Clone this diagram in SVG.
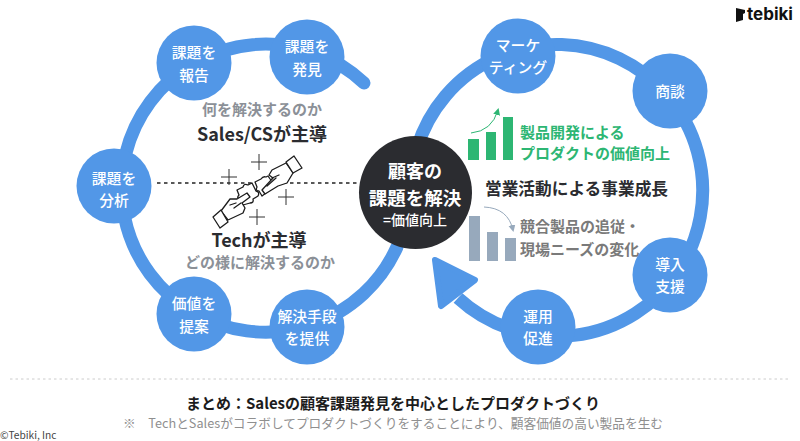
<svg xmlns="http://www.w3.org/2000/svg" width="800" height="441" viewBox="0 0 800 441">
<style>
text{font-family:"Noto Sans CJK JP","Noto Sans",sans-serif;text-anchor:middle}
.n{fill:#5297E7}
.nt{fill:#fff;font-size:14.8px;font-weight:500}
.ring{fill:none;stroke:#5297E7;stroke-width:13;stroke-linecap:round}
.big{fill:#2b2c30;font-size:18px;font-weight:700}
.sub{fill:#8b9097;font-size:15px;font-weight:700}
.l{text-anchor:start}
.icon{fill:#fff;stroke:#1c1c1c;stroke-width:1.3;stroke-linejoin:round;stroke-linecap:round}
.sp{fill:none;stroke:#333;stroke-width:1}
</style>
<defs>
<marker id="ga" markerWidth="8" markerHeight="8" refX="5" refY="3.5" orient="auto" markerUnits="userSpaceOnUse"><path d="M0 0L7 3.5L0 7Z" fill="#2DB673"/></marker>
<marker id="gr" markerWidth="8" markerHeight="8" refX="5" refY="3.5" orient="auto" markerUnits="userSpaceOnUse"><path d="M0 0L7 3.5L0 7Z" fill="#97A9BC"/></marker>
</defs>
<rect width="800" height="441" fill="#fff"/>
<g id="connectors">
<path class="ring" d="M364 83A144 144 0 1 0 397 247"/>
<path class="ring" style="stroke-linecap:butt" d="M417 148A146 146 0 1 1 458 298"/>
<path d="M435 260L475 280L441 306Z" fill="#5297E7" stroke="#5297E7" stroke-width="6" stroke-linejoin="round"/>
<path d="M157 183H360" fill="none" stroke="#222" stroke-width="1.300" stroke-dasharray="3.500 3.500"/>
<path d="M10 379H790" fill="none" stroke="#ccc" stroke-width="1" stroke-dasharray="2.500 3"/>
</g>
<g id="icon-hands">
<path class="sp" d="M259 154V170M251 162H267M229 169V185M221 177H237M286 189V205M278 197H294M257 209V225M249 217H265"/>
<path class="icon" d="M237 190L243 187Q244 183 248 185L252 183L256 191Q260 192 258 196L253 199Q254 203 250 203L243 205L240 199Q236 198 239 195Z"/>
<path class="icon" d="M255 182L261 179Q263 176 266 177L268 176L275 186L262 196L259 191Q255 191 257 187Z"/>
<path class="icon" d="M221 211L230 199L237 199L247 193L250 197L242 203L245 208L243 213L228 220Z"/>
<path class="icon" d="M230 205L236 203M241 203L234 208"/>
<path class="icon" d="M213 217L221 210L228 222L220 228Z"/>
<path class="icon" d="M286 163L272 170L269 175L273 178L262 190L265 194L278 186L287 183L293 173Z"/>
<path class="icon" d="M267 186L276 178M272 178L279 175"/>
<path class="icon" d="M286 162L294 156L302 168L293 173Z"/>
</g>
<g id="node-hakken"><circle class="n" cx="307" cy="57" r="37.500"/><text class="nt" x="307" y="52">課題を</text><text class="nt" x="307" y="75">発見</text></g>
<g id="node-houkoku"><circle class="n" cx="194" cy="63" r="37.500"/><text class="nt" x="194" y="58">課題を</text><text class="nt" x="194" y="81">報告</text></g>
<g id="node-bunseki"><circle class="n" cx="114" cy="186" r="37.500"/><text class="nt" x="114" y="184">課題を</text><text class="nt" x="114" y="206">分析</text></g>
<g id="node-teian"><circle class="n" cx="194" cy="314" r="37.500"/><text class="nt" x="194" y="309">価値を</text><text class="nt" x="194" y="332">提案</text></g>
<g id="node-kaiketsu"><circle class="n" cx="307" cy="327" r="37.500"/><text class="nt" x="307" y="322">解決手段</text><text class="nt" x="307" y="344">を提供</text></g>
<g id="node-marketing"><circle class="n" cx="518" cy="56" r="37.500"/><text class="nt" x="518" y="51">マーケ</text><text class="nt" x="518" y="73">ティング</text></g>
<g id="node-shoudan"><circle class="n" cx="670" cy="91" r="37.500"/><text class="nt" x="670" y="97">商談</text></g>
<g id="node-dounyu"><circle class="n" cx="670" cy="275" r="37.500"/><text class="nt" x="670" y="270">導入</text><text class="nt" x="670" y="292">支援</text></g>
<g id="node-unyou"><circle class="n" cx="538" cy="327" r="37.500"/><text class="nt" x="538" y="322">運用</text><text class="nt" x="538" y="344">促進</text></g>
<g id="node-center"><circle cx="415.500" cy="192.500" r="56.500" fill="#2b2c30"/>
<text x="415" y="178" fill="#fff" font-size="18" font-weight="700">顧客の</text>
<text x="415" y="205" fill="#fff" font-size="18.500" font-weight="700">課題を解決</text>
<text x="415" y="225" fill="#fff" font-size="14" font-weight="500">=価値向上</text></g>
<g id="left-text">
<text class="sub" x="262" y="115">何を解決するのか</text>
<text class="big" x="262" y="141">Sales/CSが主導</text>
<text class="big" x="259" y="247">Techが主導</text>
<text class="sub" x="260" y="268">どの様に解決するのか</text>
</g>
<g id="chart-up">
<rect x="468" y="139" width="11" height="21" fill="#2DB673"/><rect x="486" y="132" width="10" height="28" fill="#2DB673"/><rect x="503" y="117" width="10" height="43" fill="#2DB673"/>
<path d="M471 133Q492 131 498 110" fill="none" stroke="#2DB673" stroke-width="1" marker-end="url(#ga)"/>
<text class="l" x="520" y="138" fill="#2DB673" font-size="15" font-weight="700">製品開発による</text>
<text class="l" x="520" y="159" fill="#2DB673" font-size="15" font-weight="700">プロダクトの価値向上</text>
</g>
<text class="l" x="485" y="195" fill="#2b2c30" font-size="16.700" font-weight="700">営業活動による事業成長</text>
<g id="chart-down">
<rect x="469" y="216" width="11" height="45" fill="#97A9BC"/><rect x="487" y="232" width="11" height="29" fill="#97A9BC"/><rect x="505" y="238" width="11" height="23" fill="#97A9BC"/>
<path d="M484 207Q508 208 513 230" fill="none" stroke="#97A9BC" stroke-width="1" marker-end="url(#gr)"/>
<text class="l" x="520" y="232" fill="#7a7a7a" font-size="15" font-weight="700">競合製品の追従・</text>
<text class="l" x="520" y="255" fill="#7a7a7a" font-size="15" font-weight="700">現場ニーズの変化</text>
</g>
<g id="logo">
<path d="M736 8L745 10V13L743 14V20L736 22Z" fill="#111"/>
<text class="l" x="747" y="20" fill="#111" font-size="17" font-weight="700" style="font-family:Inter,sans-serif">tebiki</text>
</g>
<g id="footer">
<text x="393" y="409" fill="#1c1c1c" font-size="15" font-weight="700">まとめ：Salesの顧客課題発見を中心としたプロダクトづくり</text>
<text x="393" y="428" fill="#8f8f8f" font-size="12.700">※　TechとSalesがコラボしてプロダクトづくりをすることにより、顧客価値の高い製品を生む</text>
<text class="l" x="0" y="439" fill="#444" font-size="10.200">©Tebiki, Inc</text>
</g>
</svg>
